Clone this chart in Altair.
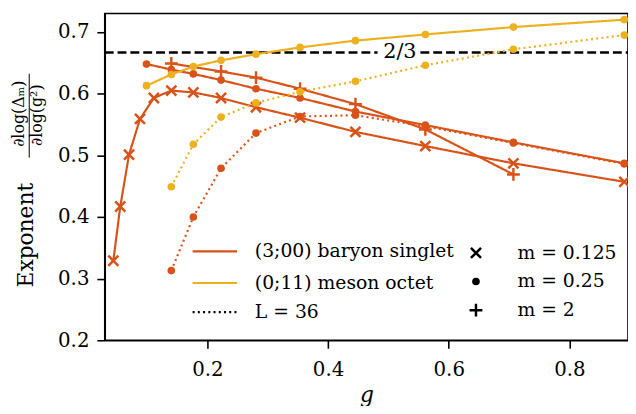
import altair as alt
import pandas as pd

# ---- data ----
g_m0125 = [0.0442, 0.0557, 0.0702, 0.0884, 0.1114, 0.1403, 0.1768, 0.2227,
           0.2806, 0.3536, 0.4454, 0.5612, 0.7071, 0.8909]
g_m025 = [0.0992, 0.1403, 0.1768, 0.2227, 0.2806, 0.3536, 0.4454, 0.5612, 0.7071, 0.8909]
g_m2 = [0.1403, 0.2227, 0.2806, 0.3536, 0.4454, 0.5612, 0.7071]
g_L36 = [0.1403, 0.1768, 0.2227, 0.2806, 0.3536, 0.4454, 0.5612, 0.7071, 0.8909]

baryon_m0125 = [0.329, 0.417, 0.501, 0.559, 0.593, 0.605, 0.602, 0.593,
                0.578, 0.561, 0.538, 0.515, 0.487, 0.457]
baryon_m025 = [0.648, 0.639, 0.632, 0.622, 0.608, 0.593, 0.571, 0.549, 0.521, 0.487]
baryon_m2 = [0.649, 0.636, 0.626, 0.608, 0.583, 0.542, 0.469]
baryon_m025_L36 = [0.313, 0.400, 0.479, 0.536, 0.563, 0.565, 0.547, 0.520, 0.486]
meson_m025 = [0.613, 0.631, 0.644, 0.654, 0.664, 0.675, 0.686, 0.696, 0.708, 0.720]
meson_m025_L36 = [0.449, 0.518, 0.562, 0.585, 0.603, 0.620, 0.646, 0.672, 0.695]

series_names = ["(3;00) baryon singlet", "(0;11) meson octet"]
series_colors = ["#d95319", "#edb120"]
m_names = ["m = 0.125", "m = 0.25", "m = 2"]
L_names = ["L = 36", "L = ∞"]

threshold = 2 / 3
thr_label = "2/3"
thr_x1 = [0.03, 0.553]
thr_x2 = [0.482, 0.897]
thr_label_x = 0.519

FONT = "DejaVu Serif"

rows = []
def add(gs, vs, series, m, L, line):
    for g, v in zip(gs, vs):
        rows.append(dict(g=g, v=v, series=series, m=m, L=L, line=line))

add(g_m0125, baryon_m0125, series_names[0], m_names[0], L_names[1], "b1")
add(g_m025, baryon_m025, series_names[0], m_names[1], L_names[1], "b2")
add(g_m2, baryon_m2, series_names[0], m_names[2], L_names[1], "b3")
add(g_L36, baryon_m025_L36, series_names[0], m_names[1], L_names[0], "b4")
add(g_m025, meson_m025, series_names[1], m_names[1], L_names[1], "m1")
add(g_L36, meson_m025_L36, series_names[1], m_names[1], L_names[0], "m2")
df = pd.DataFrame(rows)

X_PATH = "M-1,-0.7L-0.7,-1L0,-0.3L0.7,-1L1,-0.7L0.3,0L1,0.7L0.7,1L0,0.3L-0.7,1L-1,0.7L-0.3,0Z"
PLUS_PATH = "M-0.19,-1L0.19,-1L0.19,-0.19L1,-0.19L1,0.19L0.19,0.19L0.19,1L-0.19,1L-0.19,0.19L-1,0.19L-1,-0.19L-0.19,-0.19Z"
LINE_SYM = "M-4.5,0L4.5,0"

xscale = alt.Scale(domain=[0.03, 0.897], nice=False, zero=False)
yscale = alt.Scale(domain=[0.2, 0.73], nice=False, zero=False)

xaxis = alt.Axis(values=[0.2, 0.4, 0.6, 0.8], format=".1f", title="g",
                 titleFontStyle="italic", titleFontWeight="normal", titleFont=FONT,
                 titleFontSize=22, titleY=62, titleBaseline="alphabetic",
                 labelPadding=12)
yaxis = alt.Axis(values=[0.2, 0.3, 0.4, 0.5, 0.6, 0.7], format=".1f", title="Exponent",
                 titleFont=FONT, titleFontSize=22, titleFontWeight="normal",
                 titleAngle=270, titleX=-73, titleY=224, titleBaseline="alphabetic",
                 titleAlign="center", labelPadding=8)

color_legend = alt.Legend(title=None, orient="none", legendX=102, legendY=231.5,
                          symbolType=LINE_SYM, symbolSize=100, symbolStrokeWidth=2.2,
                          labelFont=FONT, labelFontSize=19, labelOffset=31, labelLimit=400,
                          rowPadding=12, padding=0, labelColor="black")
color = alt.Color("series:N", scale=alt.Scale(domain=series_names, range=series_colors),
                  legend=color_legend)

base = alt.Chart(df)

lines = base.mark_line(strokeWidth=2.2).encode(
    x=alt.X("g:Q", scale=xscale, axis=xaxis),
    y=alt.Y("v:Q", scale=yscale, axis=yaxis),
    color=color,
    strokeDash=alt.StrokeDash(
        "L:N", scale=alt.Scale(domain=L_names, range=[[2, 3.3], [1, 0]]),
        legend=alt.Legend(title=None, values=[L_names[0]], orient="none",
                          legendX=102, legendY=293, symbolType=LINE_SYM,
                          symbolSize=100, symbolStrokeWidth=2.2, symbolStrokeColor="black",
                          labelFont=FONT, labelFontSize=19, labelOffset=31, labelLimit=400,
                          padding=0, labelColor="black")),
    detail="line:N",
    order="g:Q",
)

shape_legend = alt.Legend(title=None, orient="none", legendX=366.5, legendY=233,
                          symbolFillColor="black", symbolStrokeColor="black",
                          symbolStrokeWidth=0, labelFont=FONT, labelFontSize=19,
                          labelOffset=32.5, rowPadding=9, padding=0, labelColor="black",
                          labelLimit=400)

points = base.mark_point(filled=True, opacity=1).encode(
    x="g:Q",
    y="v:Q",
    color=color,
    shape=alt.Shape("m:N", scale=alt.Scale(domain=m_names, range=[X_PATH, "circle", PLUS_PATH]),
                    legend=shape_legend),
    size=alt.Size("m:N", scale=alt.Scale(type="ordinal", domain=m_names, range=[144, 60, 169]),
                  legend=shape_legend),
)

thr_df = pd.DataFrame({"x1": thr_x1, "x2": thr_x2, "y": [threshold] * len(thr_x1)})
thr_rule = alt.Chart(thr_df).mark_rule(color="black", strokeWidth=2.5, strokeDash=[9, 4]).encode(
    x="x1:Q", x2="x2:Q", y="y:Q")
thr_text = alt.Chart(pd.DataFrame({"x": [thr_label_x], "y": [threshold], "t": [thr_label]})).mark_text(
    font=FONT, fontSize=21, baseline="middle", align="center", color="black").encode(
    x="x:Q", y="y:Q", text="t:N")

# fraction part of the y-axis title (rotated like the axis title)
num = alt.Chart(pd.DataFrame({"t": ["∂log(Δₘ)"]})).mark_text(
    font=FONT, fontSize=16, angle=270, baseline="alphabetic", align="center", color="black"
).encode(x=alt.value(-82), y=alt.value(101.5), text="t:N")
den = alt.Chart(pd.DataFrame({"t": ["∂log(g²)"]})).mark_text(
    font=FONT, fontSize=16, angle=270, baseline="alphabetic", align="center", color="black"
).encode(x=alt.value(-64), y=alt.value(103), text="t:N")
bar = alt.Chart(pd.DataFrame({"a": [0]})).mark_rule(color="black", strokeWidth=1).encode(
    x=alt.value(-76.5), y=alt.value(61), y2=alt.value(146))

chart = alt.layer(thr_rule, thr_text, lines, points, num, den, bar).resolve_scale(
    x="shared", y="shared"
).properties(
    width=530, height=331,
    padding={"left": 98, "top": 3, "right": 0, "bottom": 64},
    autosize=alt.AutoSizeParams(type="none"),
    background="white",
).configure_view(stroke="black", strokeWidth=1.6).configure_axis(
    grid=False, domainColor="black", domainWidth=1.6, tickColor="black", tickWidth=1.6,
    tickSize=8, labelFont=FONT, labelFontSize=20, labelColor="black", titleColor="black",
)

chart.save("out.html", embed_options={"renderer": "svg", "actions": False})
